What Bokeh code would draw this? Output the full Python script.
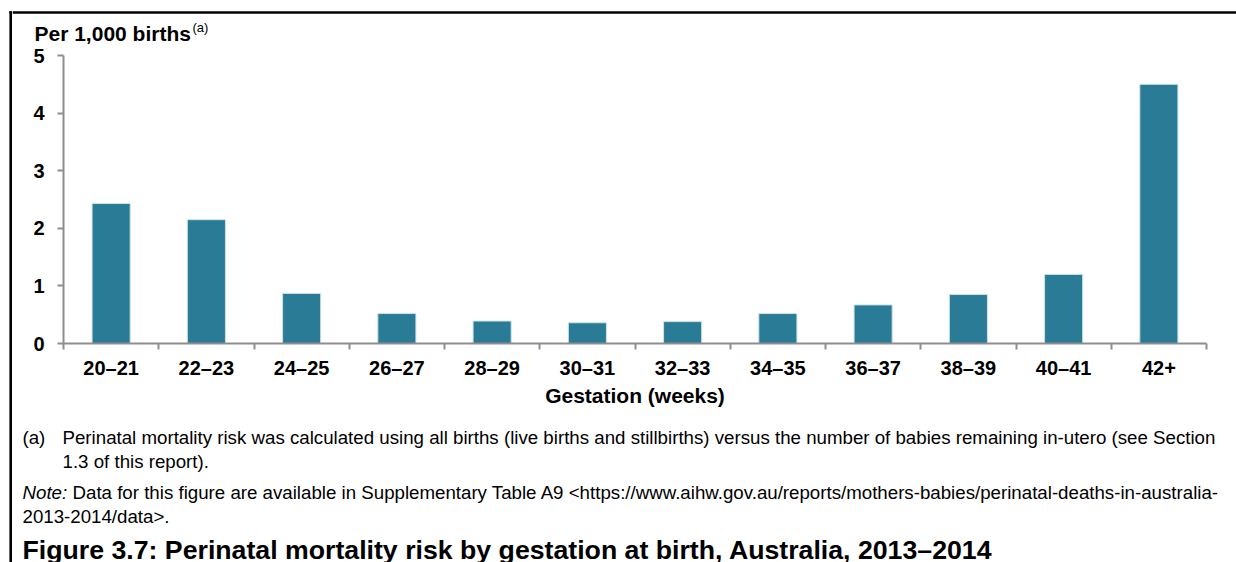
from bokeh.plotting import figure
from bokeh.models import FixedTicker, Range1d
from bokeh.layouts import row, column
from bokeh.core.properties import value
from bokeh.embed import file_html
from bokeh.resources import INLINE

categories = ["20–21", "22–23", "24–25", "26–27", "28–29", "30–31",
              "32–33", "34–35", "36–37", "38–39", "40–41", "42+"]
risk = [2.43, 2.15, 0.87, 0.52, 0.39, 0.36, 0.38, 0.52, 0.67, 0.85, 1.20, 4.50]
y_ticks = [0, 1, 2, 3, 4, 5]

FONT = "Liberation Sans"
BAR = "#2A7B96"
AXIS = "#8E8E8E"

PAGE_W, PAGE_H = 1236, 562
STRIP_W = 12
MAIN_W = PAGE_W - STRIP_W
TOP_H = 44
CHART_H = 366
BOT_H = PAGE_H - TOP_H - CHART_H


def blank(width, height, x0, y0):
    """A figure whose data coordinates equal page pixels (y downward)."""
    f = figure(width=width, height=height, output_backend="svg", toolbar_location=None,
               x_range=Range1d(x0, x0 + width), y_range=Range1d(y0 + height, y0),
               x_axis_location=None, y_axis_location=None, min_border=0,
               frame_align=False)
    f.outline_line_color = None
    f.grid.grid_line_color = None
    f.background_fill_color = "white"
    f.border_fill_color = "white"
    return f


def put(f, text, x, y, size, style="normal"):
    f.text(x=[x], y=[y], text=[text], text_font=value(FONT), text_font_size=size,
           text_font_style=style, text_color="black",
           text_baseline="alphabetic", text_align="left")


# left strip with the outer frame's left edge
s = blank(STRIP_W, PAGE_H, 0, 0)
s.segment(x0=[10.2], y0=[10.8], x1=[10.2], y1=[PAGE_H], line_color="black", line_width=2.6)
s.segment(x0=[9], y0=[12], x1=[STRIP_W], y1=[12], line_color="black", line_width=2.6)

# top text band
t = blank(MAIN_W, TOP_H, STRIP_W, 0)
t.segment(x0=[STRIP_W], y0=[12], x1=[PAGE_W], y1=[12], line_color="black", line_width=2.6)
put(t, "Per 1,000 births", 34, 32.5, "21px", "bold")
put(t, "(a)", 192, 26.5, "13px")

# chart
FRAME_L, FRAME_R, FRAME_T, FRAME_B = 63, 1206, 55, 343
centers = [i + 0.5 for i in range(len(categories))]
bounds = list(range(len(categories) + 1))

p = figure(width=MAIN_W, height=CHART_H, output_backend="svg", toolbar_location=None,
           x_range=Range1d(0, len(categories)), y_range=Range1d(0, 5),
           min_border_left=FRAME_L - STRIP_W, min_border_right=PAGE_W - FRAME_R,
           min_border_top=FRAME_T - TOP_H, min_border_bottom=TOP_H + CHART_H - FRAME_B,
           frame_align=False)
p.outline_line_color = None
p.xgrid.grid_line_color = None
p.ygrid.grid_line_color = None
p.background_fill_color = "white"
p.border_fill_color = "white"

p.vbar(x=centers, top=risk, width=0.4, bottom=0,
       fill_color=BAR, line_color="#cfe2e9", line_width=1)

xa = p.xaxis[0]
xa.ticker = FixedTicker(ticks=centers, minor_ticks=bounds)
xa.major_label_overrides = {c: lab for c, lab in zip(centers, categories)}
xa.major_tick_line_color = None
xa.minor_tick_line_color = AXIS
xa.minor_tick_line_width = 2
xa.minor_tick_out = 6
xa.minor_tick_in = 0
xa.axis_line_color = AXIS
xa.axis_line_width = 2
xa.major_label_text_font = FONT
xa.major_label_text_font_style = "bold"
xa.major_label_text_font_size = "20px"
xa.major_label_text_color = "black"
xa.major_label_standoff = 7
xa.axis_label = "Gestation (weeks)"
xa.axis_label_text_font = FONT
xa.axis_label_text_font_style = "bold"
xa.axis_label_text_font_size = "21px"
xa.axis_label_text_color = "black"
xa.axis_label_standoff = 2

ya = p.yaxis[0]
ya.ticker = FixedTicker(ticks=y_ticks, minor_ticks=[])
ya.major_tick_line_color = AXIS
ya.major_tick_line_width = 2
ya.major_tick_out = 6
ya.major_tick_in = 0
ya.minor_tick_line_color = None
ya.axis_line_color = AXIS
ya.axis_line_width = 2
ya.major_label_text_font = FONT
ya.major_label_text_font_style = "bold"
ya.major_label_text_font_size = "20px"
ya.major_label_text_color = "black"
ya.major_label_standoff = 13

# bottom notes band
b = blank(MAIN_W, BOT_H, STRIP_W, TOP_H + CHART_H)
NOTE = "18.7px"
put(b, "(a)", 22, 437, NOTE)
put(b, "Perinatal mortality risk was calculated using all births (live births and stillbirths) "
       "versus the number of babies remaining in-utero (see Section", 62, 437, NOTE)
put(b, "1.3 of this report).", 62, 461, NOTE)
put(b, "Note:", 22, 492, NOTE, "italic")
put(b, "Data for this figure are available in Supplementary Table A9 "
       "<https://www.aihw.gov.au/reports/mothers-babies/perinatal-deaths-in-australia-",
    72, 492, NOTE)
put(b, "2013-2014/data>.", 22, 516, NOTE)
put(b, "Figure 3.7: Perinatal mortality risk by gestation at birth, Australia, 2013–2014",
    22, 549, "26.7px", "bold")

layout = row(s, column(t, p, b))
open("out.html", "w").write(file_html(layout, INLINE))
